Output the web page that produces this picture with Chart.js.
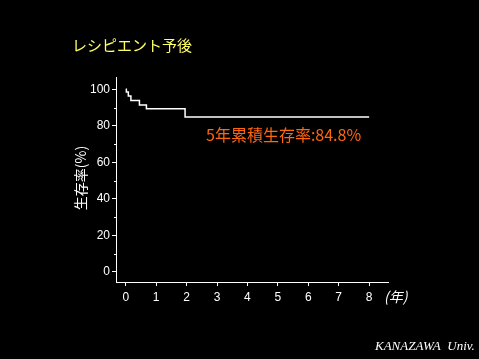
<!DOCTYPE html>
<html>
<head>
<meta charset="utf-8">
<script src="https://cdn.jsdelivr.net/npm/chart.js@4"></script>
<style>
html,body{margin:0;padding:0;background:#000;}
#wrap{width:479px;height:359px;position:relative;}
</style>
</head>
<body>
<div id="wrap"><canvas id="c" width="479" height="359"></canvas></div>
<script>
// Data
const years = [0, 0.02, 0.085, 0.17, 0.45, 0.68, 1.95, 8.0];
const survival = [100, 98.5, 96.3, 93.9, 91.4, 89.3, 84.8, 84.8];
const xTickValues = [0, 1, 2, 3, 4, 5, 6, 7, 8];
const yTickValues = [0, 20, 40, 60, 80, 100];
const yMinorTickValues = [10, 30, 50, 70, 90];
const titleText = 'レシピエント予後';
const yTitleText = '生存率(%)';
const xTitleText = '(年)';
const noteText = '5年累積生存率:84.8%';
const creditText = 'KANAZAWA  Univ.';

const points = years.map((t, i) => ({x: t, y: survival[i]}));

const decor = {
  id: 'decor',
  beforeDraw(chart) {
    const ctx = chart.ctx;
    ctx.save();
    ctx.fillStyle = '#000';
    ctx.fillRect(0, 0, chart.width, chart.height);
    ctx.restore();
  },
  afterDraw(chart) {
    const ctx = chart.ctx;
    const ys = chart.scales.y;
    const area = chart.chartArea;
    ctx.save();
    // minor y ticks
    ctx.strokeStyle = '#fff';
    ctx.lineWidth = 1;
    yMinorTickValues.forEach(v => {
      const py = Math.round(ys.getPixelForValue(v)) + 0.5;
      ctx.beginPath();
      ctx.moveTo(area.left - 2, py);
      ctx.lineTo(area.left, py);
      ctx.stroke();
    });
    // title
    ctx.fillStyle = '#ffff66';
    ctx.font = '15px "Noto Sans CJK JP"';
    ctx.textBaseline = 'middle';
    ctx.textAlign = 'left';
    ctx.fillText(titleText, 72, 45);
    // note
    ctx.fillStyle = '#ff6610';
    ctx.font = '16px "Noto Sans CJK JP"';
    ctx.fillText(noteText, 206, 135);
    // x title
    ctx.fillStyle = '#fff';
    ctx.font = 'italic 14px "Noto Sans CJK JP"';
    ctx.fillText(xTitleText, 384, 297);
    // y title
    ctx.save();
    ctx.translate(81, 178);
    ctx.rotate(-Math.PI / 2);
    ctx.textAlign = 'center';
    ctx.font = '14px "Noto Sans CJK JP"';
    ctx.fillText(yTitleText, 0, 0);
    ctx.restore();
    // credit
    ctx.font = 'italic 13px "Liberation Serif"';
    ctx.textAlign = 'left';
    ctx.fillText(creditText, 375, 347);
    ctx.restore();
  }
};

new Chart(document.getElementById('c'), {
  type: 'scatter',
  data: {
    datasets: [{
      data: points,
      showLine: true,
      stepped: 'before',
      borderColor: '#ffffff',
      borderWidth: 1.5,
      pointRadius: 0,
      fill: false
    }]
  },
  options: {
    responsive: false,
    animation: false,
    events: [],
    layout: {padding: {left: 0, right: 91, top: 77, bottom: 0}},
    plugins: {legend: {display: false}, tooltip: {enabled: false}, title: {display: false}},
    scales: {
      x: {
        type: 'linear',
        min: -0.32,
        max: 8.62,
        afterBuildTicks: s => { s.ticks = xTickValues.map(v => ({value: v})); },
        afterFit: s => { s.height = 77; },
        border: {display: true, color: '#fff', width: 1},
        grid: {display: true, drawOnChartArea: false, drawTicks: true, tickLength: 4, color: '#fff'},
        ticks: {color: '#fff', font: {family: 'Liberation Sans', size: 12}, padding: 4, maxRotation: 0, autoSkip: false}
      },
      y: {
        type: 'linear',
        min: -5.5,
        max: 106.7,
        afterBuildTicks: s => { s.ticks = yTickValues.map(v => ({value: v})); },
        afterFit: s => { s.width = 116; },
        border: {display: true, color: '#fff', width: 1},
        grid: {display: true, drawOnChartArea: false, drawTicks: true, tickLength: 4, color: '#fff'},
        ticks: {color: '#fff', font: {family: 'Liberation Sans', size: 12}, padding: 2, autoSkip: false}
      }
    }
  },
  plugins: [decor]
});
</script>
</body>
</html>
